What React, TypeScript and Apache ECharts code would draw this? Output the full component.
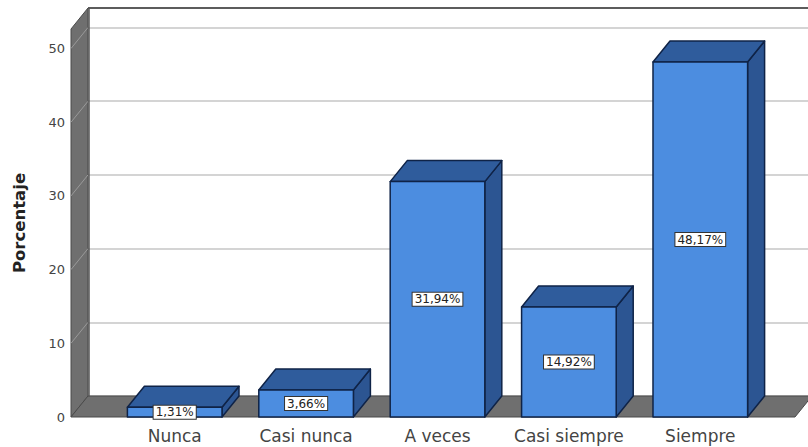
import React, { useEffect, useRef } from "react";
import * as echarts from "echarts";

const categories = ["Nunca", "Casi nunca", "A veces", "Casi siempre", "Siempre"];
const percentages = [1.31, 3.66, 31.94, 14.92, 48.17];
const yTicks = [0, 10, 20, 30, 40, 50];
const yMax = 52.65;

// depth offset of the 3D projection (px)
const DX = 17;
const DY = -21;

const FRONT = "#4c8de0";
const TOP = "#2f5c9c";
const SIDE = "#2c5592";
const EDGE = "#0f2347";
const WALL = "#6f6f6f";
const WALL_EDGE = "#4a4a4a";

const fmt = (v: number) => v.toFixed(2).replace(".", ",") + "%";

export default function App() {
  const ref = useRef<HTMLDivElement>(null);
  useEffect(() => {
    const chart = echarts.init(ref.current!, null, { renderer: "svg" });
    chart.setOption({
      animation: false,
      backgroundColor: "#ffffff",
      grid: [
        { left: 109, right: 42, top: 29, bottom: 30 },
        { left: 88, right: 0, top: 8, bottom: 51 },
      ],
      xAxis: [
        {
          type: "category",
          gridIndex: 0,
          data: categories,
          axisLine: { show: false },
          axisTick: { show: false },
          splitLine: { show: false },
          axisLabel: { interval: 0, fontSize: 17, fontFamily: "DejaVu Sans", color: "#444", margin: 10 },
        },
        { type: "value", gridIndex: 1, show: false, min: 0, max: 1 },
      ],
      yAxis: [
        {
          type: "value",
          gridIndex: 0,
          min: 0,
          max: yMax,
          interval: 10,
          name: "Porcentaje",
          nameLocation: "middle",
          nameGap: 81,
          nameTextStyle: { fontSize: 16.5, fontWeight: "bold", fontFamily: "DejaVu Sans", color: "#222" },
          axisLine: { show: false },
          axisTick: { show: false },
          splitLine: { show: false },
          axisLabel: {
            fontSize: 13,
            fontFamily: "DejaVu Sans",
            color: "#444",
            margin: 44,
            showMaxLabel: false,
            formatter: (v: number) => (yTicks.indexOf(v) >= 0 ? String(v) : ""),
          },
        },
        {
          type: "value",
          gridIndex: 1,
          min: 0,
          max: yMax,
          interval: 10,
          axisLine: { show: false },
          axisTick: { show: false },
          axisLabel: { show: false },
          splitLine: { lineStyle: { color: "#c6c6c6", width: 1.5 } },
        },
      ],
      series: [
        {
          type: "custom",
          xAxisIndex: 0,
          yAxisIndex: 0,
          z: 1,
          silent: true,
          clip: false,
          data: [[0, 0]],
          renderItem: (params: any, api: any) => {
            const cs = params.coordSys;
            const yf0 = api.coord([0, 0])[1];
            const yfTop = api.coord([0, yMax])[1];
            const xf = cs.x - 38;
            const xb = xf + DX;
            const xRightF = cs.x + cs.width + 29;
            const children: any[] = [];
            // left wall
            children.push({
              type: "polygon",
              shape: { points: [[xf, yfTop], [xb, yfTop + DY], [xb, yf0 + DY], [xf, yf0]] },
              style: { fill: WALL, stroke: WALL_EDGE, lineWidth: 1 },
            });
            // tick lines on the left wall
            yTicks.slice(1).forEach((t) => {
              const y = api.coord([0, t])[1];
              children.push({
                type: "line",
                shape: { x1: xf, y1: y, x2: xb, y2: y + DY },
                style: { stroke: "#9a9a9a", lineWidth: 1 },
              });
            });
            // floor
            children.push({
              type: "polygon",
              shape: { points: [[xb, yf0 + DY], [xRightF + DX, yf0 + DY], [xRightF, yf0], [xf, yf0]] },
              style: { fill: WALL, stroke: WALL_EDGE, lineWidth: 1 },
            });
            // back-wall top border
            children.push({
              type: "line",
              shape: { x1: xb, y1: yfTop + DY, x2: xRightF + DX + 10, y2: yfTop + DY },
              style: { stroke: "#5c5c5c", lineWidth: 2 },
            });
            // back-wall left edge
            children.push({
              type: "line",
              shape: { x1: xb + 1, y1: yfTop + DY, x2: xb + 1, y2: yf0 + DY },
              style: { stroke: "#555", lineWidth: 1.5 },
            });
            return { type: "group", children };
          },
        },
        {
          type: "custom",
          xAxisIndex: 0,
          yAxisIndex: 0,
          z: 3,
          silent: true,
          clip: false,
          data: percentages.map((v, i) => [i, v]),
          renderItem: (params: any, api: any) => {
            const i = api.value(0);
            const v = api.value(1);
            const [cx, y1] = api.coord([i, v]);
            const y0 = api.coord([i, 0])[1];
            const w = api.size([1, 0])[0] * 0.72;
            const x0 = cx - w / 2;
            const x1 = cx + w / 2;
            const st = { stroke: EDGE, lineWidth: 1.5, lineJoin: "round" };
            return {
              type: "group",
              children: [
                {
                  type: "polygon",
                  shape: { points: [[x1, y1], [x1 + DX, y1 + DY], [x1 + DX, y0 + DY], [x1, y0]] },
                  style: { fill: SIDE, ...st },
                },
                {
                  type: "polygon",
                  shape: { points: [[x0, y1], [x0 + DX, y1 + DY], [x1 + DX, y1 + DY], [x1, y1]] },
                  style: { fill: TOP, ...st },
                },
                {
                  type: "rect",
                  shape: { x: x0, y: y1, width: w, height: y0 - y1 },
                  style: { fill: FRONT, ...st },
                },
              ],
            };
          },
        },
        {
          type: "bar",
          xAxisIndex: 0,
          yAxisIndex: 0,
          z: 5,
          silent: true,
          barWidth: "72%",
          data: percentages,
          itemStyle: { color: "rgba(0,0,0,0)" },
          label: {
            show: true,
            position: "inside",
            formatter: (p: any) => fmt(p.value),
            fontSize: 12,
            lineHeight: 12,
            fontFamily: "DejaVu Sans",
            color: "#222",
            backgroundColor: "#ffffff",
            borderColor: "#333",
            borderWidth: 1,
            padding: [1, 2, 0, 2],
          },
        },
      ],
    });
    return () => chart.dispose();
  }, []);
  return (
    <div
      ref={ref}
      style={{ position: "fixed", left: 0, top: 0, width: 808, height: 447 }}
    />
  );
}
